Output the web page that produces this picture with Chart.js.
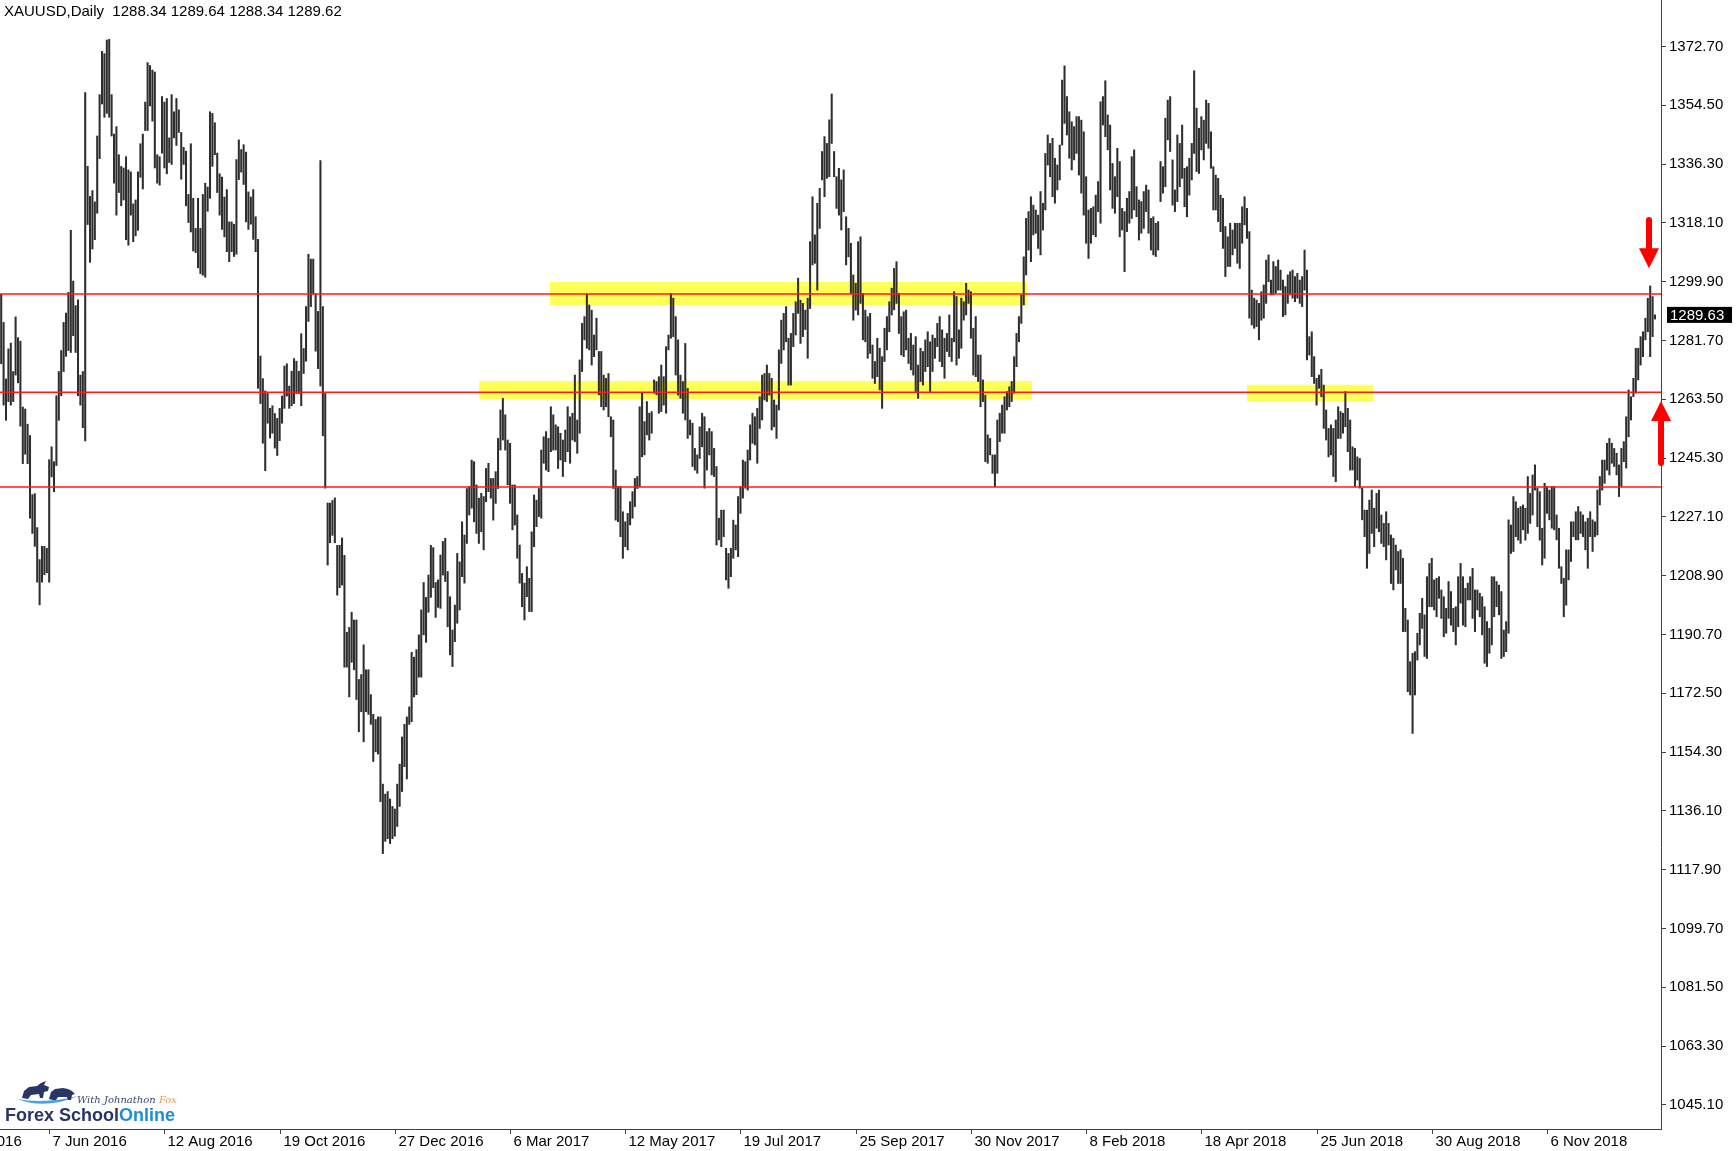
<!DOCTYPE html>
<html>
<head>
<meta charset="utf-8">
<script src="https://cdn.jsdelivr.net/npm/chart.js@4.4.1/dist/chart.umd.min.js"></script>
<style>
  html, body { margin: 0; padding: 0; background: #fff; }
  #wrap { width: 1736px; height: 1151px; }
</style>
</head>
<body>
<div id="wrap"><canvas id="chart" width="1736" height="1151"></canvas></div>
<script>
// XAUUSD daily bars, May 2016 -> 7 Jan 2019
const highs = [
  // May - Sep 2016
  1296.0,1287.3,1269.8,1279.1,1280.9,1272.1,1289.0,1282.6,1281.5,1261.1,
  1260.5,1255.8,1252.3,1234.0,1234.3,1223.8,1213.9,1218.0,1218.0,1217.4,
  1244.8,1248.8,1244.2,1264.6,1272.1,1278.6,1287.3,1290.2,1296.6,1315.8,
  1300.1,1292.5,1294.3,1271.0,1272.1,1358.4,1335.6,1326.3,1328.1,1324.6,
  1345.0,1357.8,1371.2,1370.5,1374.7,1374.9,1357.8,1345.6,1347.9,1339.2,
  1335.6,1335.1,1338.6,1334.5,1333.9,1324.0,1325.2,1333.9,1342.6,1345.6,
  1355.5,1367.7,1366.8,1365.4,1364.8,1339.2,1338.6,1357.2,1355.5,1356.6,
  1344.4,1357.8,1352.5,1356.6,1353.1,1346.1,1341.5,1340.3,1326.9,1342.6,
  1325.7,1316.4,1325.7,1316.4,1326.9,1330.4,1329.2,1352.5,1352.0,1349.1,
  1339.7,1333.3,
  // Sep 2016 - Jan 2017
  1332.3,1326.1,1328.4,1318.4,1318.4,1317.7,1337.7,1343.8,1340.8,1342.3,
  1340.0,1327.7,1326.1,1328.4,1320.0,1313.0,1276.9,1269.9,1266.1,1265.3,
  1260.7,1261.5,1259.1,1257.6,1260.7,1264.5,1273.8,1274.5,1267.6,
  1272.2,1276.1,1275.3,1272.2,1283.8,1279.2,1292.2,1308.4,1306.9,1306.9,
  1296.1,1290.7,1337.4,1292.2,1265.3,1231.4,1231.4,1232.2,1233.0,1218.3,
  1218.3,1220.6,1215.2,1191.4,1192.9,1197.6,1195.2,1195.2,1176.8,1178.3,
  1187.5,1179.8,1179.8,1172.1,1166.0,1164.4,1165.2,1165.2,1144.4,
  1141.3,1142.1,1139.8,1137.5,1136.7,1144.4,1150.6,1159.0,1162.9,
  1165.2,1168.3,1185.2,1183.7,1186.0,1190.6,1198.3,1206.8,1202.2,1209.1,
  1218.3,1217.6,1206.8,1207.6,
  // Jan - May 2017
  1215.3,1219.5,1220.5,1210.2,1202.4,1192.1,1199.8,1215.8,1213.2,1225.6,
  1221.5,1235.9,1236.5,1244.7,1244.2,1237.0,1232.9,1234.4,1233.4,1242.1,
  1243.7,1239.0,1239.0,1241.1,1251.4,1260.2,1263.8,1258.7,1250.9,
  1249.9,1237.0,1237.0,1227.7,1218.4,1209.6,1206.6,1211.7,1208.1,1222.5,
  1233.9,1232.3,1235.9,1247.8,1251.9,1253.5,1251.4,1261.2,1258.7,1255.6,
  1255.0,1253.0,1250.9,1254.0,1261.2,1258.1,1259.2,1271.0,1257.1,1275.7,
  1287.0,1289.1,1296.1,1292.7,1291.1,1283.4,1288.6,1278.3,1278.3,1271.0,
  1270.0,1271.5,1258.1,1257.1,1241.6,1236.5,1236.5,1228.7,1225.6,
  1228.2,1231.8,1234.9,1239.0,1239.6,1261.2,1265.4,1256.6,1262.8,1259.2,
  1259.7,1269.5,1269.0,1270.5,
  // Jun - Oct 2017
  1274.1,1270.5,1279.8,1283.4,1296.3,1294.8,1289.1,1281.9,1271.0,1269.0,
  1280.8,1266.9,1257.1,1256.1,1248.3,1246.3,1255.0,1259.2,1258.1,1253.5,
  1254.5,1253.5,1248.3,1242.7,1226.7,1229.2,1229.2,1217.4,1215.8,
  1217.4,1226.1,1224.6,1233.4,1236.5,1244.7,1244.2,1247.8,1255.6,1259.2,
  1258.1,1260.7,1264.3,1271.0,1271.5,1274.1,1271.5,1270.0,1263.3,
  1261.7,1278.8,1288.0,1290.1,1292.2,1282.4,1283.9,1290.1,1293.7,1301.0,
  1294.2,1293.2,1291.1,1294.8,1312.3,1326.2,1314.4,1324.2,1328.8,
  1340.2,1344.8,1342.7,1350.0,1358.0,1340.2,1332.4,1335.0,1331.4,1334.5,
  1320.0,1316.4,1311.8,1302.0,1299.4,1312.3,1313.8,1296.3,1291.1,1289.1,
  1290.1,1280.3,1275.2,1282.4,1279.3,
  // Oct 2017 - Feb 2018
  1276.7,1285.5,1289.1,1293.7,1297.9,1304.0,1306.1,1296.3,1289.1,1290.6,
  1291.1,1282.4,1283.9,1280.3,1282.9,1274.1,1279.3,1278.3,1281.9,
  1284.4,1281.3,1283.4,1282.4,1287.0,1289.1,1285.0,1282.4,1283.9,1289.6,
  1282.4,1296.8,1295.3,1285.0,1294.8,1293.7,1299.4,1297.3,1296.8,
  1285.5,1289.1,1277.2,1277.2,1269.5,1264.8,1252.5,1251.4,1246.3,1246.3,
  1257.1,1259.2,1261.7,1264.3,1265.9,1267.4,1269.0,1276.7,1283.9,1289.1,
  1295.8,1307.6,1319.5,1321.6,1326.2,1323.6,1322.1,1320.5,1327.8,1324.2,
  1339.6,1345.3,1342.7,1344.3,1338.1,1336.0,1342.2,1362.3,1366.7,
  1357.2,1352.5,1349.4,1347.9,1351.0,1351.0,1349.9,1346.3,1332.4,1322.1,
  1322.6,1323.1,1326.7,1330.9,
  // Feb - Jun 2018
  1355.6,1357.2,1362.1,1351.5,1348.4,1336.5,1332.4,1341.2,1337.1,
  1322.6,1321.6,1325.7,1327.8,1338.6,1340.7,1329.3,1325.2,1324.7,1327.8,
  1329.8,1328.3,1319.5,1320.0,1318.0,1318.5,1337.1,1335.5,1350.5,1356.1,
  1357.2,1337.6,1328.3,1345.3,1342.7,1348.4,1335.0,1335.5,1338.1,1342.7,
  1365.2,1353.6,1347.4,1351.0,1349.9,1356.1,1355.1,1346.3,1335.5,1332.9,
  1331.9,1326.7,1325.7,1317.0,1313.8,1318.0,1315.9,1318.0,1318.0,
  1318.0,1323.1,1326.2,1322.6,1315.4,1297.3,1294.8,1294.2,1293.2,1296.8,
  1298.9,1306.6,1308.2,1300.4,1306.1,1304.6,1306.6,1303.5,1300.4,1298.4,
  1302.0,1303.0,1303.5,1301.5,1302.5,1300.4,1301.5,1309.7,1303.5,1282.9,
  1284.4,1276.7,1270.0,1271.0,
  // Jun - Nov 2018
  1272.8,1267.9,1260.2,1254.5,1255.6,1254.5,1257.1,1261.2,1259.7,1259.2,
  1265.9,1260.7,1257.1,1248.8,1248.3,1245.7,1245.2,1236.0,1229.2,1229.2,
  1232.3,1235.4,1229.8,1234.4,1235.4,1227.7,1225.1,1228.7,1225.1,1221.5,
  1220.5,1218.4,1216.4,1216.9,1214.3,1198.8,1195.2,1182.3,
  1184.9,1185.4,1191.1,1197.3,1201.9,1196.8,1208.6,1212.7,1214.3,1207.6,
  1208.1,1208.6,1204.5,1202.4,1198.8,1207.1,1204.0,1198.8,1199.3,1208.6,
  1212.7,1208.6,1205.0,1206.6,1208.6,1211.2,1204.5,1204.5,1203.5,
  1202.4,1199.3,1194.7,1192.6,1208.6,1208.6,1207.1,1206.0,1204.0,1192.1,
  1194.7,1226.2,1224.6,1233.4,1231.8,1229.8,1230.3,1230.8,1229.8,1239.6,
  1234.4,1240.1,1243.2,1236.0,1234.9,
  // Nov 2018 - Jan 2019
  1223.6,1237.5,1236.5,1235.4,1236.5,1236.5,1227.7,1223.6,1211.7,1208.1,
  1216.9,1216.9,1225.6,1225.6,1228.7,1230.3,1228.7,1227.7,1225.6,
  1226.7,1228.7,1226.2,1225.6,1235.4,1239.6,1244.7,1244.7,1249.9,1251.4,
  1249.9,1248.3,1246.8,1243.2,1248.3,1250.4,1258.1,1266.4,1264.3,1270.0,
  1279.3,1279.3,1282.9,1284.4,1288.6,1294.8,1298.6,1295.3,1289.64
];

const lows = [
  // May - Sep 2016
  1274.5,1261.7,1257.0,1262.8,1261.7,1262.8,1271.0,1268.6,1255.2,1243.6,
  1246.5,1243.6,1226.7,1222.0,1218.0,1206.9,1199.9,1206.9,1209.2,1209.8,
  1206.9,1239.5,1234.9,1243.0,1257.0,1264.6,1272.1,1276.8,1278.6,1278.0,
  1283.2,1278.0,1264.6,1261.7,1254.7,1250.6,1317.6,1305.9,1310.0,1312.9,
  1321.1,1338.0,1354.9,1350.8,1352.0,1350.8,1345.0,1330.4,1320.5,1327.5,
  1323.4,1325.2,1312.9,1311.2,1320.5,1312.3,1314.1,1315.8,1332.2,1328.6,
  1346.7,1346.7,1354.3,1349.6,1335.1,1330.4,1329.8,1339.7,1335.1,1333.3,
  1336.8,1336.2,1344.4,1342.1,1346.1,1331.6,1336.2,1323.4,1318.2,1315.3,
  1309.4,1308.9,1304.2,1302.4,1301.9,1301.3,1321.7,1325.7,1335.6,1339.2,
  1327.5,1320.5,
  // Sep 2016 - Jan 2017
  1316.1,1313.8,1309.2,1306.1,1309.2,1307.7,1308.4,1331.5,1333.8,1330.0,
  1318.4,1316.1,1317.7,1313.0,1309.2,1266.9,1262.2,1249.9,1241.4,1256.1,
  1251.5,1253.0,1248.4,1246.1,1250.7,1256.1,1260.7,1264.5,1260.7,
  1261.5,1262.2,1265.3,1265.3,1261.5,1271.5,1275.3,1287.6,1292.2,1296.1,
  1278.4,1273.0,1267.6,1252.2,1236.0,1212.2,1219.1,1221.4,1219.1,1202.9,
  1205.2,1206.0,1180.6,1180.6,1171.4,1182.1,1179.8,1170.6,1160.6,1166.8,
  1157.5,1166.8,1166.0,1162.9,1151.4,1154.4,1153.7,1139.0,1122.9,
  1126.7,1127.5,1126.0,1127.5,1128.3,1131.3,1137.5,1142.1,1149.8,
  1146.0,1162.9,1163.7,1171.4,1172.1,1177.5,1177.5,1190.6,1188.3,1197.6,
  1202.2,1205.2,1196.0,1199.1,
  // Jan - May 2017
  1198.8,1209.1,1207.1,1193.1,1184.4,1180.8,1188.5,1194.2,1198.3,1208.6,
  1206.6,1218.9,1227.7,1229.8,1225.6,1222.0,1218.9,1222.5,1216.9,1231.8,
  1234.9,1232.9,1226.1,1231.3,1235.9,1247.8,1250.9,1247.8,1237.0,
  1231.3,1223.1,1224.6,1214.3,1206.6,1199.3,1195.2,1202.4,1197.8,1197.8,
  1217.9,1224.1,1227.2,1226.7,1243.7,1241.6,1241.1,1247.3,1247.8,1247.8,
  1242.1,1244.7,1239.6,1244.2,1247.3,1243.7,1250.9,1250.4,1246.8,1253.0,
  1272.1,1281.9,1279.3,1278.8,1274.1,1276.7,1278.8,1264.9,1261.2,1260.2,
  1261.2,1258.1,1251.9,1235.9,1226.1,1225.6,1221.0,1214.3,1217.9,
  1216.9,1224.6,1226.7,1230.3,1235.9,1236.5,1245.7,1246.3,1252.5,1250.9,
  1253.0,1265.4,1264.9,1259.2,
  // Jun - Oct 2017
  1259.7,1261.7,1259.2,1278.8,1282.4,1282.9,1271.0,1264.8,1263.8,1259.2,
  1257.1,1251.4,1252.5,1242.7,1241.6,1240.6,1245.2,1248.8,1236.0,1241.6,
  1246.3,1240.1,1239.6,1218.4,1220.0,1217.9,1221.0,1207.6,1205.0,
  1208.6,1214.3,1216.9,1214.8,1228.2,1232.9,1236.0,1235.4,1244.7,1249.9,
  1249.4,1243.7,1254.5,1257.1,1263.3,1262.8,1264.8,1254.0,1255.0,
  1251.4,1260.2,1274.6,1278.8,1281.3,1267.9,1267.9,1279.8,1283.4,1290.1,
  1280.8,1282.9,1285.1,1276.2,1291.6,1305.1,1305.6,1297.3,1316.4,
  1331.4,1326.2,1331.9,1332.4,1342.7,1332.4,1322.6,1320.5,1315.9,1321.6,
  1305.1,1307.6,1296.3,1288.0,1291.1,1289.6,1293.2,1281.9,1281.3,1276.2,
  1277.7,1270.0,1268.4,1270.5,1266.4,
  // Oct 2017 - Feb 2018
  1260.7,1275.2,1278.8,1284.4,1289.6,1291.2,1293.2,1283.9,1277.2,1276.7,
  1278.8,1274.6,1272.6,1271.0,1265.9,1263.8,1269.0,1267.9,1272.1,
  1273.6,1265.9,1272.1,1276.2,1279.8,1275.2,1273.6,1270.0,1278.3,1276.7,
  1275.2,1281.3,1274.1,1276.2,1279.3,1288.0,1289.6,1293.2,1282.4,
  1271.0,1270.5,1269.0,1261.2,1262.8,1244.2,1243.7,1246.3,1240.6,1236.5,
  1240.6,1250.4,1253.0,1253.0,1260.2,1261.2,1262.8,1265.4,1273.6,1281.3,
  1287.0,1292.7,1302.0,1309.7,1306.1,1314.4,1314.9,1310.2,1308.2,1315.9,
  1322.1,1336.0,1332.4,1326.2,1324.2,1328.3,1331.4,1342.2,1348.9,
  1345.3,1338.1,1334.5,1337.6,1339.6,1332.9,1327.3,1320.5,1311.8,1307.1,
  1311.8,1314.4,1313.8,1321.6,
  // Feb - Jun 2018
  1318.0,1348.4,1344.8,1340.7,1328.3,1322.6,1321.1,1326.2,1313.8,
  1315.9,1303.0,1315.4,1318.0,1319.5,1322.1,1320.0,1312.8,1314.9,1316.4,
  1321.6,1314.9,1309.7,1308.2,1307.7,1309.7,1324.7,1327.3,1329.3,1343.8,
  1340.2,1323.6,1321.6,1324.7,1329.3,1331.9,1323.1,1320.0,1326.7,1331.4,
  1339.6,1334.0,1333.4,1340.7,1337.6,1342.7,1341.2,1335.0,1322.1,1322.1,
  1318.5,1315.4,1310.2,1301.5,1304.6,1304.6,1308.2,1310.2,1305.6,
  1304.0,1311.8,1317.5,1313.3,1288.6,1286.5,1285.5,1286.0,1281.9,1288.0,
  1288.6,1293.2,1299.9,1295.8,1295.8,1296.3,1297.3,1297.3,1289.1,1289.6,
  1293.2,1295.8,1294.8,1293.7,1294.8,1293.2,1292.2,1297.3,1275.7,1277.2,
  1270.5,1268.4,1261.7,1266.9,
  // Jun - Nov 2018
  1264.3,1254.5,1250.9,1245.7,1246.3,1239.6,1238.0,1251.4,1251.4,1253.0,
  1255.0,1247.3,1241.6,1241.6,1236.5,1238.5,1236.0,1226.2,1221.0,1211.2,
  1215.8,1222.0,1217.9,1223.6,1222.5,1218.9,1217.9,1213.8,1218.4,1206.5,
  1204.5,1210.7,1206.5,1206.5,1191.6,1191.6,1173.0,1172.0,
  1160.1,1172.0,1182.8,1187.5,1192.6,1183.9,1183.3,1199.3,1199.3,1198.3,
  1196.2,1201.9,1195.7,1190.0,1191.1,1195.7,1193.6,1191.6,1187.5,1193.1,
  1200.4,1193.6,1193.1,1201.4,1201.4,1195.7,1191.6,1198.3,1196.2,
  1190.6,1181.8,1180.8,1184.9,1187.5,1196.2,1199.3,1196.8,1183.3,1183.9,
  1185.4,1191.1,1215.8,1216.4,1221.0,1219.9,1218.9,1223.1,1219.9,1222.0,
  1225.1,1227.7,1235.4,1224.1,1219.9,
  // Nov 2018 - Jan 2019
  1212.2,1214.3,1228.2,1226.2,1223.6,1223.1,1220.0,1211.2,1206.5,1196.2,
  1199.8,1207.6,1213.3,1221.0,1220.0,1220.0,1222.0,1221.0,1216.9,
  1211.2,1221.0,1216.4,1221.0,1221.5,1230.8,1235.4,1237.5,1241.6,1240.1,
  1243.7,1242.7,1240.1,1233.4,1236.5,1244.2,1242.2,1251.9,1257.1,1264.3,
  1265.4,1269.5,1274.1,1276.7,1281.9,1284.4,1276.7,1282.9,1288.34
];

// time axis: bar index of each date label, and its text
const dateTickBars = [-28, 20, 68, 116, 164, 212, 260, 308, 356, 404, 452, 500, 548, 596, 644];
const dateTickLabels = ['31 Mar 2016', '7 Jun 2016', '12 Aug 2016', '19 Oct 2016', '27 Dec 2016',
  '6 Mar 2017', '12 May 2017', '19 Jul 2017', '25 Sep 2017', '30 Nov 2017', '8 Feb 2018',
  '18 Apr 2018', '25 Jun 2018', '30 Aug 2018', '6 Nov 2018'];

// price axis
const priceTicks = [1045.10, 1063.30, 1081.50, 1099.70, 1117.90, 1136.10, 1154.30, 1172.50, 1190.70,
  1208.90, 1227.10, 1245.30, 1263.50, 1281.70, 1299.90, 1318.10, 1336.30, 1354.50, 1372.70];
const priceMin = 1037.66;
const priceMax = 1387.09;

// drawn objects
const levelLines = [1296.1, 1265.7, 1236.4];
const zoneFromBar = [228.6, 199.1, 519.0];
const zoneToBar = [427.4, 429.5, 571.5];
const zoneTop = [1299.8, 1269.2, 1268.0];
const zoneBottom = [1292.7, 1263.6, 1262.8];
const arrowBar = [686.5, 691.5];
const arrowFrom = [1319.0, 1243.8];
const arrowTip = [1304.1, 1263.0];

const header = 'XAUUSD,Daily  1288.34 1289.64 1288.34 1289.62';
const lastPrice = 1289.63;
const slotCount = 692; // 690 bars + 2 empty slots of chart shift

const FONT = '"Liberation Sans", Arial, sans-serif';
const FRAME = '#404040';

function drawArrow(ctx, x, yFrom, yTip) {
  const dir = Math.sign(yTip - yFrom);
  const yBase = yTip - dir * 20;
  ctx.save();
  ctx.strokeStyle = '#ff0000';
  ctx.fillStyle = '#ff0000';
  ctx.lineWidth = 6;
  ctx.lineCap = 'round';
  ctx.beginPath();
  ctx.moveTo(x, yFrom);
  ctx.lineTo(x, yBase);
  ctx.stroke();
  ctx.beginPath();
  ctx.moveTo(x - 10, yBase);
  ctx.lineTo(x + 10, yBase);
  ctx.lineTo(x, yTip);
  ctx.closePath();
  ctx.fill();
  ctx.restore();
}

function drawLogo(ctx) {
  ctx.save();
  // swoosh
  ctx.fillStyle = '#4aa3dc';
  ctx.beginPath();
  ctx.moveTo(17, 1099);
  ctx.quadraticCurveTo(46, 1110, 78, 1096);
  ctx.quadraticCurveTo(46, 1104, 17, 1099);
  ctx.fill();
  // bull
  ctx.fillStyle = '#2b3467';
  ctx.beginPath();
  [[22,1098],[24,1091],[29,1087],[37,1086],[41,1083],[46,1081],[44,1085],[49,1087],[48,1091],
   [44,1092],[43,1098],[40,1098],[39,1094],[31,1095],[28,1099]].forEach(function (p, i) {
    if (i === 0) ctx.moveTo(p[0], p[1]); else ctx.lineTo(p[0], p[1]);
  });
  ctx.closePath();
  ctx.fill();
  // bear
  ctx.beginPath();
  [[49,1099],[51,1092],[55,1089],[63,1088],[68,1089],[72,1091],[75,1094],[72,1095],[71,1100],
   [68,1100],[67,1097],[58,1097],[56,1100],[53,1100]].forEach(function (p, i) {
    if (i === 0) ctx.moveTo(p[0], p[1]); else ctx.lineTo(p[0], p[1]);
  });
  ctx.closePath();
  ctx.fill();
  // signature
  ctx.font = 'italic 10px "DejaVu Serif", serif';
  ctx.textBaseline = 'alphabetic';
  ctx.fillStyle = '#3b4470';
  ctx.fillText('With Johnathon', 77, 1103);
  const w = ctx.measureText('With Johnathon ').width;
  ctx.fillStyle = '#e79a55';
  ctx.fillText('Fox', 77 + w, 1103);
  // brand
  ctx.font = 'bold 18px ' + FONT;
  ctx.fillStyle = '#2b3467';
  ctx.fillText('Forex School', 5, 1121);
  const w2 = ctx.measureText('Forex School').width;
  ctx.fillStyle = '#1b8fd2';
  ctx.fillText('Online', 5 + w2, 1121);
  ctx.restore();
}

const overlays = {
  id: 'overlays',
  beforeDatasetsDraw(chart) {
    const { ctx, scales: { x, y } } = chart;
    ctx.save();
    ctx.fillStyle = '#ffff5a';
    zoneFromBar.forEach(function (from, i) {
      const x0 = x.getPixelForValue(from);
      const x1 = x.getPixelForValue(zoneToBar[i]);
      const y0 = y.getPixelForValue(zoneTop[i]);
      const y1 = y.getPixelForValue(zoneBottom[i]);
      ctx.fillRect(x0, y0, x1 - x0, y1 - y0);
    });
    ctx.restore();
  },
  afterDatasetsDraw(chart) {
    const { ctx, chartArea, scales: { x, y } } = chart;
    ctx.save();
    ctx.strokeStyle = '#ff1a1a';
    ctx.lineWidth = 1.5;
    levelLines.forEach(function (p) {
      const py = y.getPixelForValue(p);
      ctx.beginPath();
      ctx.moveTo(chartArea.left, py);
      ctx.lineTo(chartArea.right, py);
      ctx.stroke();
    });
    ctx.restore();
  },
  afterDraw(chart) {
    const { ctx, chartArea, scales: { x, y } } = chart;
    ctx.save();
    // date labels with their tick marks
    ctx.font = '15px ' + FONT;
    ctx.fillStyle = '#000';
    ctx.strokeStyle = FRAME;
    ctx.lineWidth = 1;
    ctx.textBaseline = 'alphabetic';
    ctx.textAlign = 'left';
    dateTickBars.forEach(function (b, i) {
      const px = Math.round(x.getPixelForValue(b)) + 0.5;
      ctx.beginPath();
      ctx.moveTo(px, chartArea.bottom);
      ctx.lineTo(px, chartArea.bottom + 5);
      ctx.stroke();
      ctx.fillText(dateTickLabels[i], px + 3, chartArea.bottom + 17);
    });
    // header
    ctx.fillText(header, 4, 16);
    // last price tag
    const py = y.getPixelForValue(lastPrice);
    ctx.fillStyle = '#000';
    ctx.fillRect(chartArea.right + 6, py - 8, 65, 16);
    ctx.fillStyle = '#fff';
    ctx.textBaseline = 'middle';
    ctx.fillText(lastPrice.toFixed(2), chartArea.right + 9, py + 0.5);
    ctx.restore();
    // arrows
    arrowBar.forEach(function (b, i) {
      drawArrow(ctx, x.getPixelForValue(b), y.getPixelForValue(arrowFrom[i]), y.getPixelForValue(arrowTip[i]));
    });
    drawLogo(ctx);
  }
};

const barData = lows.map(function (l, i) { return [l, highs[i]]; });
const slotLabels = Array.from({ length: slotCount }, function (_, i) { return String(i); });

new Chart(document.getElementById('chart'), {
  type: 'bar',
  data: {
    labels: slotLabels,
    datasets: [{
      data: barData,
      backgroundColor: '#2e2e2e',
      borderWidth: 0,
      barThickness: 1.4
    }]
  },
  options: {
    responsive: false,
    animation: false,
    devicePixelRatio: 1,
    layout: { padding: 0 },
    plugins: { legend: { display: false }, tooltip: { enabled: false } },
    scales: {
      x: {
        offset: true,
        grid: { display: false },
        ticks: { display: false },
        border: { display: true, color: FRAME, width: 1 },
        afterFit: function (s) {
          s.height = 22;
          s.paddingLeft = 0;
          s.paddingRight = 0;
        }
      },
      y: {
        position: 'right',
        min: priceMin,
        max: priceMax,
        afterBuildTicks: function (s) { s.ticks = priceTicks.map(function (v) { return { value: v }; }); },
        ticks: {
          autoSkip: false,
          padding: 3,
          color: '#000',
          font: { family: FONT, size: 15 },
          callback: function (v) { return Number(v).toFixed(2); }
        },
        grid: { drawOnChartArea: false, drawTicks: true, tickLength: 5, color: FRAME },
        border: { display: true, color: FRAME, width: 1 },
        afterFit: function (s) {
          s.width = 75;
          s.paddingTop = 0;
          s.paddingBottom = 0;
        }
      }
    }
  },
  plugins: [overlays]
});
</script>
</body>
</html>
